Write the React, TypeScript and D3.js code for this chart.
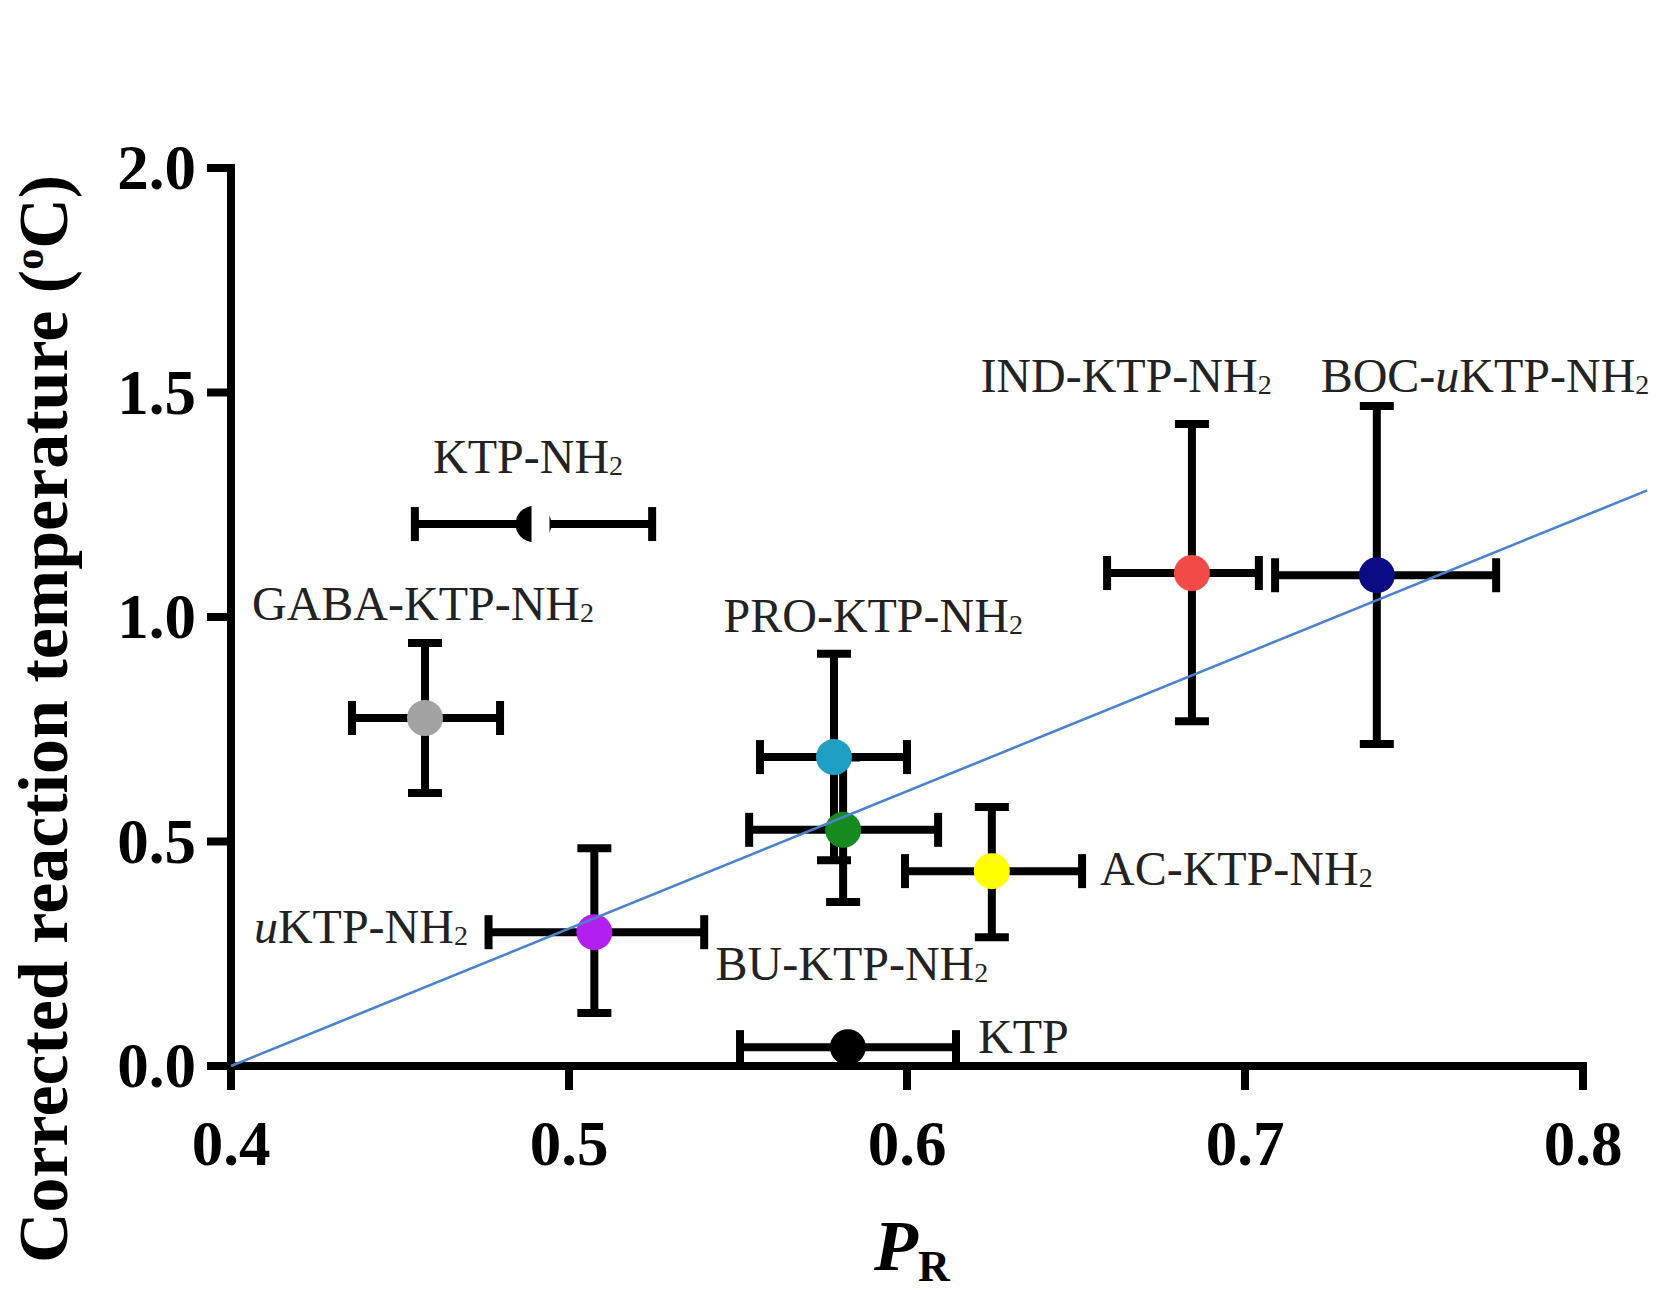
import React from 'react';
import * as d3 from 'd3';

// compounds, P_R (x) and corrected reaction temperature (y) with error ranges
const names = ['GABA-KTP-NH2', 'KTP-NH2', 'uKTP-NH2', 'PRO-KTP-NH2', 'BU-KTP-NH2', 'AC-KTP-NH2', 'KTP', 'IND-KTP-NH2', 'BOC-uKTP-NH2'];
const prValues = [0.4574, 0.4895, 0.5075, 0.5784, 0.5811, 0.6251, 0.5825, 0.6843, 0.739];
const prLow = [0.4358, 0.4544, 0.4762, 0.5565, 0.5533, 0.5994, 0.5506, 0.6592, 0.7089];
const prHigh = [0.4796, 0.5246, 0.540, 0.600, 0.6092, 0.6518, 0.6145, 0.7041, 0.7743];
const tempValues = [0.775, 1.207, 0.298, 0.688, 0.526, 0.434, 0.042, 1.098, 1.093];
const tempLow = [0.608, 1.207, 0.118, 0.458, 0.365, 0.287, 0.042, 0.768, 0.717];
const tempHigh = [0.942, 1.207, 0.485, 0.918, 0.687, 0.577, 0.042, 1.430, 1.470];
const markerColors = ['#a3a3a3', '#000000', '#b21ff0', '#1f9fc4', '#178a1f', '#ffff00', '#000000', '#f24a46', '#0b0b86'];

// label anchors in data units
const labelX = [0.4568, 0.4879, 0.4701, 0.5900, 0.5837, 0.6571, 0.6210, 0.6648, 0.7710];
const labelY = [0.993, 1.321, 0.274, 0.967, 0.192, 0.403, 0.029, 1.501, 1.501];
const labelAnchor = ['middle', 'middle', 'end', 'middle', 'middle', 'start', 'start', 'middle', 'middle'];

const xTicks = [0.4, 0.5, 0.6, 0.7, 0.8];
const yTicks = [0.0, 0.5, 1.0, 1.5, 2.0];

// fitted line end points
const fitX = [0.4, 0.819];
const fitY = [0.0, 1.282];

const W = 1667;
const H = 1301;
const serif = '"Liberation Serif", "Times New Roman", serif';

const renderLabel = (s: string) => {
  const parts = s.split(/(u(?=KTP)|2$)/).filter((p) => p !== '');
  return parts.map((p, i) => {
    if (p === 'u') return <tspan key={i} fontStyle="italic">u</tspan>;
    if (p === '2') return <tspan key={i} fontSize={28} dy={2}>2</tspan>;
    return <tspan key={i}>{p}</tspan>;
  });
};

const App: React.FC = () => {
  const x = d3.scaleLinear().domain([0.4, 0.8]).range([231, 1583]);
  const y = d3.scaleLinear().domain([0, 2]).range([1066, 168]);
  const fitLine = d3.line<number>().x((d) => x(d)).y((d, i) => y(fitY[i]));

  const capHalf = 17;
  const barW = 8;

  return (
    <div style={{ position: 'absolute', left: 0, top: 0, background: '#fff' }}>
      <svg width={W} height={H} style={{ display: 'block' }}>
        <rect width={W} height={H} fill="#fff" />

        {/* axes */}
        <g stroke="#000" strokeWidth={8} strokeLinecap="square" fill="none">
          <line x1={x(0.4)} x2={x(0.4)} y1={y(2)} y2={y(0)} />
          <line x1={x(0.4)} x2={x(0.8)} y1={y(0)} y2={y(0)} />
          {yTicks.map((t) => (
            <line key={'yt' + t} x1={x(0.4) - 20} x2={x(0.4)} y1={y(t)} y2={y(t)} />
          ))}
          {xTicks.map((t) => (
            <line key={'xt' + t} x1={x(t)} x2={x(t)} y1={y(0)} y2={y(0) + 20} />
          ))}
        </g>
        <g fontFamily={serif} fontWeight="bold" fontSize={63} fill="#000">
          {yTicks.map((t) => (
            <text key={'yl' + t} x={x(0.4) - 35} y={y(t)} dy="0.34em" textAnchor="end">
              {d3.format('.1f')(t)}
            </text>
          ))}
          {xTicks.map((t) => (
            <text key={'xl' + t} x={x(t)} y={y(0) + 99} textAnchor="middle">
              {d3.format('.1f')(t)}
            </text>
          ))}
        </g>

        {/* axis titles */}
        <text
          transform={`translate(67, ${719}) rotate(-90)`}
          textAnchor="middle"
          fontFamily={serif}
          fontWeight="bold"
          fontSize={70}
          fill="#000"
        >
          Corrected reaction temperature (<tspan fontSize={42} dy={-24}>o</tspan><tspan dy={24}>C)</tspan>
        </text>
        <text x={874} y={1270} fontFamily={serif} fontWeight="bold" fontSize={72} fill="#000">
          <tspan fontStyle="italic">P</tspan>
          <tspan fontSize={44} dy={11}>R</tspan>
        </text>

        {/* error bars */}
        <g stroke="#000" strokeWidth={barW} fill="none">
          {names.map((n, i) => (
            <g key={'eb' + n}>
              <line x1={x(prLow[i])} x2={x(prHigh[i])} y1={y(tempValues[i])} y2={y(tempValues[i])} />
              <line x1={x(prLow[i])} x2={x(prLow[i])} y1={y(tempValues[i]) - capHalf} y2={y(tempValues[i]) + capHalf} />
              <line x1={x(prHigh[i])} x2={x(prHigh[i])} y1={y(tempValues[i]) - capHalf} y2={y(tempValues[i]) + capHalf} />
              {tempHigh[i] !== tempLow[i] && (
                <>
                  <line x1={x(prValues[i])} x2={x(prValues[i])} y1={y(tempLow[i])} y2={y(tempHigh[i])} />
                  <line x1={x(prValues[i]) - capHalf} x2={x(prValues[i]) + capHalf} y1={y(tempLow[i])} y2={y(tempLow[i])} />
                  <line x1={x(prValues[i]) - capHalf} x2={x(prValues[i]) + capHalf} y1={y(tempHigh[i])} y2={y(tempHigh[i])} />
                </>
              )}
            </g>
          ))}
        </g>

        {/* markers */}
        {names.map((n, i) => (
          <g key={'pt' + n}>
            <circle cx={x(prValues[i])} cy={y(tempValues[i])} r={18} fill={markerColors[i]} />
            {n === 'KTP-NH2' && (
              <rect x={x(prValues[i]) - 2} y={y(tempValues[i]) - 24} width={18} height={48} fill="#fff" />
            )}
          </g>
        ))}

        {/* fitted line */}
        <path d={fitLine(fitX) || ''} stroke="#4a82cc" strokeWidth={2.6} fill="none" />

        {/* labels */}
        <g fontFamily={serif} fontSize={48} fill="#222">
          {names.map((n, i) => (
            <text key={'lb' + n} x={x(labelX[i])} y={y(labelY[i])} textAnchor={labelAnchor[i] as any}>
              {renderLabel(n)}
            </text>
          ))}
        </g>
      </svg>
    </div>
  );
};

export default App;
